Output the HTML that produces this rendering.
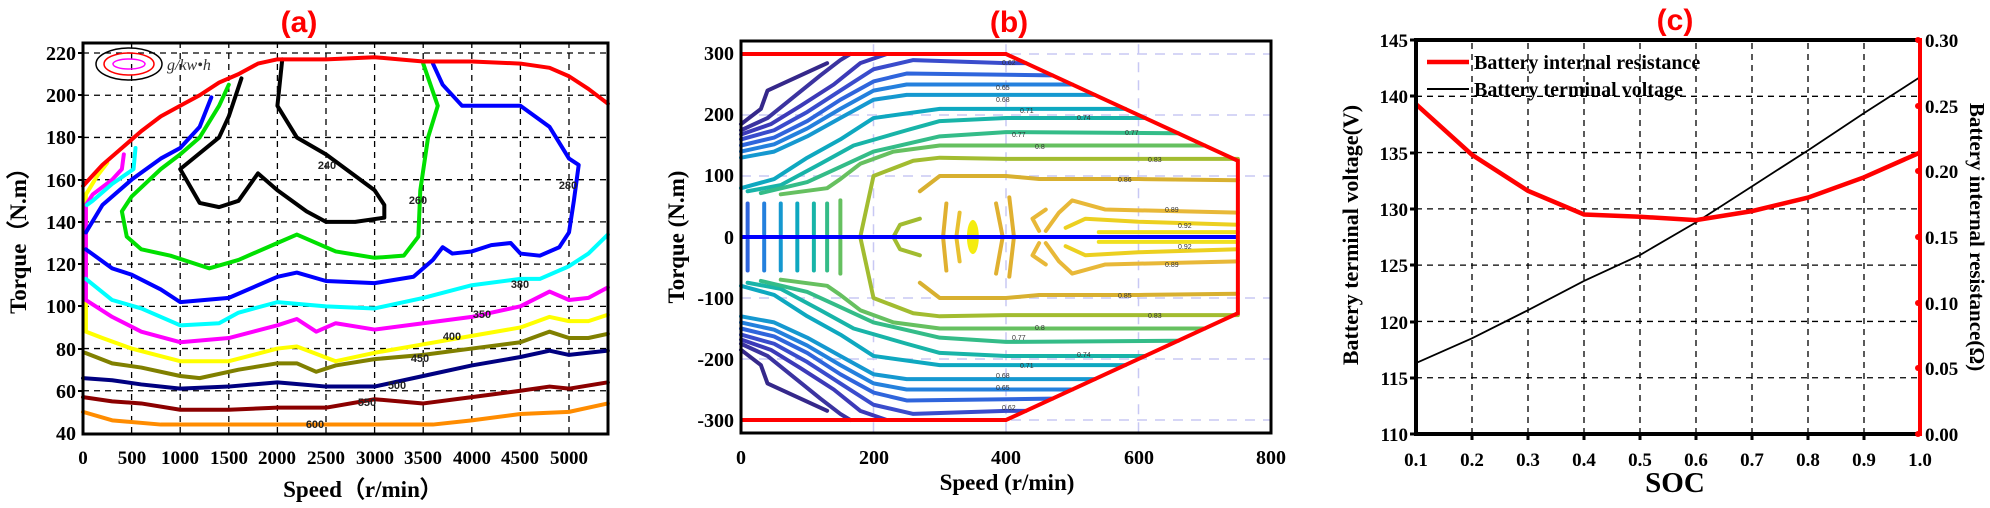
<!DOCTYPE html>
<html><head><meta charset="utf-8"><style>
html,body{margin:0;padding:0;background:#fff;}
svg{display:block;}
.t{font-family:"Liberation Serif",serif;font-weight:bold;fill:#000;}
.ttl{font-family:"Liberation Sans",sans-serif;font-weight:bold;fill:#f00;font-size:30px;}
.cl polyline{fill:none;stroke-width:4;vector-effect:non-scaling-stroke;stroke-linejoin:round;stroke-linecap:round;}
.g line{stroke:#000;stroke-width:1.3;stroke-dasharray:6,5;vector-effect:non-scaling-stroke;}
.gb line{stroke:#c8c8f4;stroke-width:1.5;stroke-dasharray:10,8;vector-effect:non-scaling-stroke;}
.lab{font-family:"Liberation Sans",sans-serif;font-weight:bold;font-size:11px;fill:#222;}
.sl{font-family:"Liberation Sans",sans-serif;font-size:7px;fill:#333;}
</style></head><body>
<svg width="1990" height="508" viewBox="0 0 1990 508" xmlns="http://www.w3.org/2000/svg">
<rect width="1990" height="508" fill="#fff"/>

<!-- ============ PANEL A ============ -->
<text class="ttl" x="299" y="32" text-anchor="middle">(a)</text>
<g transform="translate(83,433) scale(0.0972,-2.111) translate(0,-40)">
 <g class="g">
  <line x1="500" y1="40" x2="500" y2="225"/><line x1="1000" y1="40" x2="1000" y2="225"/><line x1="1500" y1="40" x2="1500" y2="225"/><line x1="2000" y1="40" x2="2000" y2="225"/><line x1="2500" y1="40" x2="2500" y2="225"/><line x1="3000" y1="40" x2="3000" y2="225"/><line x1="3500" y1="40" x2="3500" y2="225"/><line x1="4000" y1="40" x2="4000" y2="225"/><line x1="4500" y1="40" x2="4500" y2="225"/><line x1="5000" y1="40" x2="5000" y2="225"/>
  <line x1="0" y1="60" x2="5400" y2="60"/><line x1="0" y1="80" x2="5400" y2="80"/><line x1="0" y1="100" x2="5400" y2="100"/><line x1="0" y1="120" x2="5400" y2="120"/><line x1="0" y1="140" x2="5400" y2="140"/><line x1="0" y1="160" x2="5400" y2="160"/><line x1="0" y1="180" x2="5400" y2="180"/><line x1="0" y1="200" x2="5400" y2="200"/><line x1="0" y1="220" x2="5400" y2="220"/>
 </g>
 <g class="cl">
  <polyline stroke="#ff8c00" points="0,50 300,46 800,44 1500,44 2500,44 3000,44 3600,44 4000,46 4500,49 5000,50 5400,54"/>
  <polyline stroke="#8b0000" points="0,57 300,55 600,54 1000,51 1500,51 2000,52 2500,52 3000,56 3500,54 4000,57 4500,60 4800,62 5000,61 5400,64"/>
  <polyline stroke="#000080" points="0,66 300,65 600,63 1000,61 1500,62 2000,64 2500,62 3000,62 3500,67 4000,72 4500,76 4800,79 5000,77 5400,79"/>
  <polyline stroke="#808000" points="20,78 300,73 600,71 1000,67 1200,66 1600,70 2000,73 2200,73 2400,69 2600,72 3000,75 3500,77 4000,80 4500,83 4800,88 5000,85 5200,85 5400,87"/>
  <polyline stroke="#ffff00" points="250,168 150,162 30,153 30,88 200,85 500,80 1000,74 1500,74 2000,80 2200,81 2600,74 3000,78 3500,82 4000,86 4500,90 4800,95 5000,93 5200,93 5400,96"/>
  <polyline stroke="#ff00ff" points="420,172 400,165 300,160 100,153 30,148 30,103 300,95 600,88 1000,83 1500,85 2000,91 2200,94 2400,88 2600,92 3000,89 3500,92 4000,95 4500,100 4800,107 5000,103 5200,104 5400,109"/>
  <polyline stroke="#00ffff" points="540,175 520,165 300,158 100,150 40,148"/>
  <polyline stroke="#00ffff" points="30,113 300,103 600,99 1000,91 1400,92 1600,97 2000,102 2500,100 3000,99 3500,104 4000,110 4500,113 4700,113 5000,119 5200,125 5400,134"/>
  <polyline stroke="#0000ff" points="1320,199 1200,185 1000,175 800,170 500,160 200,148 30,135"/>
  <polyline stroke="#0000ff" points="30,127 300,118 500,115 800,108 1000,102 1500,104 2000,114 2200,116 2500,112 3000,111 3400,114 3600,122 3700,128 3800,125 4000,126 4200,129 4400,130 4500,125 4700,124 4900,128 5000,135 5050,150 5100,167 5000,170 4800,185 4500,195 3900,195 3700,205 3600,215"/>
  <polyline stroke="#00e000" points="1500,205 1400,195 1200,180 1000,172 800,165 500,152 400,145 450,133 600,127 900,124 1300,118 1600,122 2000,130 2200,134 2600,126 3000,123 3300,124 3450,133 3470,155 3550,180 3650,195 3500,215"/>
  <polyline stroke="#000" points="2050,217 2000,195 2200,180 2500,172 3000,155 3100,148 3100,142 2800,140 2500,140 2300,145 2000,155 1800,163 1600,150 1400,147 1200,149 1000,165 1400,180 1500,190 1630,208"/>
  <polyline stroke="#ff0000" points="0,157 200,167 400,175 600,183 800,190 1000,195 1200,200 1400,206 1600,210 1800,215 2000,217 2500,217 3000,218 3500,216 4000,216 4500,215 4800,213 5000,209 5200,203 5400,196"/>
 </g>
</g>
<text class="lab" x="327" y="169" text-anchor="middle">240</text>
<text class="lab" x="418" y="204" text-anchor="middle">260</text>
<text class="lab" x="568" y="189" text-anchor="middle">280</text>
<text class="lab" x="520" y="288" text-anchor="middle">380</text>
<text class="lab" x="482" y="318" text-anchor="middle">350</text>
<text class="lab" x="452" y="340" text-anchor="middle">400</text>
<text class="lab" x="420" y="362" text-anchor="middle">450</text>
<text class="lab" x="397" y="389" text-anchor="middle">500</text>
<text class="lab" x="367" y="406" text-anchor="middle">550</text>
<text class="lab" x="315" y="428" text-anchor="middle">600</text>
<!-- legend ellipses -->
<ellipse cx="129" cy="64" rx="33" ry="16" fill="none" stroke="#000" stroke-width="1.5"/>
<ellipse cx="129" cy="64" rx="25" ry="11" fill="none" stroke="#f00" stroke-width="1.5"/>
<ellipse cx="129" cy="64" rx="16" ry="5" fill="none" stroke="#f0f" stroke-width="1.5"/>
<text x="167" y="70" style="font-family:'Liberation Serif',serif;font-style:italic;font-size:16px;fill:#333">g/kw•h</text>
<rect x="83" y="43" width="525" height="391" fill="none" stroke="#000" stroke-width="3"/>
<g class="t" font-size="20" text-anchor="end">
 <text x="76" y="60">220</text><text x="76" y="102">200</text><text x="76" y="144">180</text><text x="76" y="187">160</text><text x="76" y="229">140</text><text x="76" y="271">120</text><text x="76" y="313">100</text><text x="76" y="356">80</text><text x="76" y="398">60</text><text x="76" y="440">40</text>
</g>
<g stroke="#000" stroke-width="2">
 <line x1="78" y1="53" x2="83" y2="53"/><line x1="78" y1="95" x2="83" y2="95"/><line x1="78" y1="137" x2="83" y2="137"/><line x1="78" y1="180" x2="83" y2="180"/><line x1="78" y1="222" x2="83" y2="222"/><line x1="78" y1="264" x2="83" y2="264"/><line x1="78" y1="306" x2="83" y2="306"/><line x1="78" y1="349" x2="83" y2="349"/><line x1="78" y1="391" x2="83" y2="391"/>
</g>
<g class="t" font-size="19" text-anchor="middle">
 <text x="83" y="464">0</text><text x="132" y="464">500</text><text x="180" y="464">1000</text><text x="229" y="464">1500</text><text x="277" y="464">2000</text><text x="326" y="464">2500</text><text x="375" y="464">3000</text><text x="423" y="464">3500</text><text x="472" y="464">4000</text><text x="520" y="464">4500</text><text x="569" y="464">5000</text>
</g>
<text class="t" font-size="23" x="363" y="497" text-anchor="middle">Speed（r/min）</text>
<text class="t" font-size="23" transform="translate(26,235) rotate(-90)" text-anchor="middle">Torque（N.m）</text>

<!-- ============ PANEL B ============ -->
<text class="ttl" x="1009" y="32" text-anchor="middle">(b)</text>
<g transform="translate(741,237) scale(0.6625,-0.61)">
 <g class="gb">
  <line x1="200" y1="-320" x2="200" y2="320"/><line x1="400" y1="-320" x2="400" y2="320"/><line x1="600" y1="-320" x2="600" y2="320"/>
  <line x1="0" y1="100" x2="800" y2="100"/><line x1="0" y1="200" x2="800" y2="200"/><line x1="0" y1="300" x2="800" y2="300"/>
  <line x1="0" y1="-100" x2="800" y2="-100"/><line x1="0" y1="-200" x2="800" y2="-200"/><line x1="0" y1="-300" x2="800" y2="-300"/>
 </g>
 <g class="cl" id="up">
  <polyline stroke="#35288a" points="0,185 30,210 40,240 70,255 100,270 130,285"/>
  <polyline stroke="#3b33a0" points="0,175 40,195 80,230 120,265 150,290 165,300"/>
  <polyline stroke="#3c3ab8" points="0,168 45,185 90,215 140,250 180,285 220,300"/>
  <polyline stroke="#3a4ccc" points="0,160 50,175 100,205 150,240 200,275 260,290 400,285 430,285"/>
  <polyline stroke="#2f65dc" points="0,150 50,163 100,190 150,225 200,255 250,268 470,265"/>
  <polyline stroke="#2480dd" points="0,140 50,152 100,178 150,210 200,240 250,250 500,250"/>
  <polyline stroke="#1598d0" points="0,130 50,140 100,165 150,195 200,225 250,233 534,233"/>
  <polyline stroke="#0ea8c0" points="0,80 50,95 100,130 150,160 200,195 300,210 580,210"/>
  <polyline stroke="#18b4a8" points="10,75 60,85 120,120 170,150 250,175 300,190 400,195 610,195"/>
  <polyline stroke="#34bc88" points="30,72 100,90 140,110 200,140 300,165 400,172 660,170"/>
  <polyline stroke="#66c060" points="60,70 130,80 150,95 180,120 230,140 300,150 400,150 700,150"/>
  <polyline stroke="#a2bc30" points="180,0 200,100 260,125 300,130 400,128 750,128"/>
  <polyline stroke="#d8b030" points="270,75 300,100 350,100 400,100 450,95 600,95 750,93"/>
  <polyline stroke="#e8b838" points="460,10 480,40 500,60 550,45 750,40"/>
  <polyline stroke="#ecd020" points="490,15 520,30 600,25 750,20"/>
  <polyline stroke="#f0e020" points="540,8 750,8"/>
 </g>
 <use href="#up" transform="scale(1,-1)"/>
 <g class="cl">
  <polyline stroke="#2f65dc" points="10,55 10,5"/><polyline stroke="#2f65dc" points="10,-55 10,-5"/>
  <polyline stroke="#2480dd" points="35,55 35,5"/><polyline stroke="#2480dd" points="35,-55 35,-5"/>
  <polyline stroke="#1598d0" points="60,55 60,5"/><polyline stroke="#1598d0" points="60,-55 60,-5"/>
  <polyline stroke="#0ea8c0" points="85,55 85,5"/><polyline stroke="#0ea8c0" points="85,-55 85,-5"/>
  <polyline stroke="#18b4a8" points="110,55 110,5"/><polyline stroke="#18b4a8" points="110,-55 110,-5"/>
  <polyline stroke="#34bc88" points="130,55 130,5"/><polyline stroke="#34bc88" points="130,-55 130,-5"/>
  <polyline stroke="#66c060" points="150,60 150,5"/><polyline stroke="#66c060" points="150,-60 150,-5"/>
  <polyline stroke="#a2bc30" points="270,30 240,20 230,0 240,-20 270,-30"/>
  <polyline stroke="#e0b030" points="310,55 305,0 310,-55"/>
  <polyline stroke="#e8c030" points="330,40 325,0 330,-40"/>
  <polyline stroke="#e0b030" points="385,55 395,0 385,-60"/>
  <polyline stroke="#e0b030" points="405,65 412,0 405,-65"/>
  <polyline stroke="#e8b838" points="450,10 440,30 460,45"/>
  <polyline stroke="#e8b838" points="450,-10 440,-30 460,-45"/>
 </g>
 <ellipse cx="350" cy="0" rx="9" ry="28" fill="#f4ec10"/>
 <polyline points="0,0 750,0" fill="none" stroke="#0000ff" stroke-width="4" vector-effect="non-scaling-stroke"/>
 <polyline points="0,300 400,300 750,125 750,-125 400,-300 0,-300" fill="none" stroke="#ff0000" stroke-width="4" vector-effect="non-scaling-stroke"/>
</g>
<g class="sl">
 <text x="1002" y="65">0.62</text><text x="996" y="90">0.65</text><text x="996" y="102">0.68</text><text x="1020" y="113">0.71</text>
 <text x="1077" y="120">0.74</text><text x="1012" y="137">0.77</text><text x="1125" y="135">0.77</text><text x="1035" y="149">0.8</text>
 <text x="1148" y="162">0.83</text><text x="1118" y="182">0.86</text><text x="1165" y="212">0.89</text><text x="1178" y="228">0.92</text>
 <text x="1165" y="267">0.89</text><text x="1178" y="249">0.92</text><text x="1118" y="298">0.85</text><text x="1148" y="318">0.83</text>
 <text x="1035" y="330">0.8</text><text x="1012" y="340">0.77</text><text x="1077" y="357">0.74</text><text x="1020" y="368">0.71</text>
 <text x="996" y="378">0.68</text><text x="996" y="390">0.65</text><text x="1002" y="410">0.62</text>
</g>
<rect x="741" y="41" width="530" height="392" fill="none" stroke="#000" stroke-width="3"/>
<g class="t" font-size="20" text-anchor="end">
 <text x="734" y="60">300</text><text x="734" y="121">200</text><text x="734" y="182">100</text><text x="734" y="244">0</text><text x="734" y="305">-100</text><text x="734" y="366">-200</text><text x="734" y="427">-300</text>
</g>
<g class="t" font-size="20" text-anchor="middle">
 <text x="741" y="464">0</text><text x="874" y="464">200</text><text x="1006" y="464">400</text><text x="1139" y="464">600</text><text x="1271" y="464">800</text>
</g>
<text class="t" font-size="23" x="1007" y="490" text-anchor="middle">Speed (r/min)</text>
<text class="t" font-size="23" transform="translate(684,237) rotate(-90)" text-anchor="middle">Torque (N.m)</text>

<!-- ============ PANEL C ============ -->
<text class="ttl" x="1675" y="30" text-anchor="middle">(c)</text>
<g transform="translate(1360,434) scale(560,-11.257) translate(0,-110)">
 <g class="g">
  <line x1="0.2" y1="110" x2="0.2" y2="145"/><line x1="0.3" y1="110" x2="0.3" y2="145"/><line x1="0.4" y1="110" x2="0.4" y2="145"/><line x1="0.5" y1="110" x2="0.5" y2="145"/><line x1="0.6" y1="110" x2="0.6" y2="145"/><line x1="0.7" y1="110" x2="0.7" y2="145"/><line x1="0.8" y1="110" x2="0.8" y2="145"/><line x1="0.9" y1="110" x2="0.9" y2="145"/>
  <line x1="0.1" y1="115" x2="1" y2="115"/><line x1="0.1" y1="120" x2="1" y2="120"/><line x1="0.1" y1="125" x2="1" y2="125"/><line x1="0.1" y1="130" x2="1" y2="130"/><line x1="0.1" y1="135" x2="1" y2="135"/><line x1="0.1" y1="140" x2="1" y2="140"/>
 </g>
 <polyline points="0.1,116.3 0.2,118.5 0.3,121 0.4,123.6 0.5,125.9 0.6,128.8 0.7,132 0.8,135.2 0.9,138.5 1.0,141.7" fill="none" stroke="#000" stroke-width="1.8" vector-effect="non-scaling-stroke"/>
 <polyline points="0.1,139.3 0.2,134.8 0.3,131.6 0.4,129.5 0.5,129.3 0.6,129 0.7,129.8 0.8,131 0.9,132.8 1.0,135" fill="none" stroke="#f00" stroke-width="4.5" vector-effect="non-scaling-stroke"/>
</g>
<line x1="1416" y1="40" x2="1920" y2="40" stroke="#000" stroke-width="4"/>
<line x1="1416" y1="434" x2="1920" y2="434" stroke="#000" stroke-width="4"/>
<line x1="1416" y1="38" x2="1416" y2="436" stroke="#000" stroke-width="4"/>
<line x1="1920" y1="38" x2="1920" y2="436" stroke="#f00" stroke-width="4"/>
<g fill="#f00">
 <circle cx="1918" cy="40" r="3"/><circle cx="1918" cy="106" r="3"/><circle cx="1918" cy="171" r="3"/><circle cx="1918" cy="237" r="3"/><circle cx="1918" cy="303" r="3"/><circle cx="1918" cy="368" r="3"/><circle cx="1918" cy="434" r="3"/>
</g>
<g stroke="#000" stroke-width="3">
 <line x1="1410" y1="40" x2="1416" y2="40"/><line x1="1410" y1="96" x2="1416" y2="96"/><line x1="1410" y1="153" x2="1416" y2="153"/><line x1="1410" y1="209" x2="1416" y2="209"/><line x1="1410" y1="265" x2="1416" y2="265"/><line x1="1410" y1="322" x2="1416" y2="322"/><line x1="1410" y1="378" x2="1416" y2="378"/><line x1="1410" y1="434" x2="1416" y2="434"/>
 <line x1="1472" y1="434" x2="1472" y2="440"/><line x1="1528" y1="434" x2="1528" y2="440"/><line x1="1584" y1="434" x2="1584" y2="440"/><line x1="1640" y1="434" x2="1640" y2="440"/><line x1="1696" y1="434" x2="1696" y2="440"/><line x1="1752" y1="434" x2="1752" y2="440"/><line x1="1808" y1="434" x2="1808" y2="440"/><line x1="1864" y1="434" x2="1864" y2="440"/>
</g>
<g class="t" font-size="19" text-anchor="end">
 <text x="1408" y="47">145</text><text x="1408" y="103">140</text><text x="1408" y="160">135</text><text x="1408" y="216">130</text><text x="1408" y="272">125</text><text x="1408" y="329">120</text><text x="1408" y="385">115</text><text x="1408" y="441">110</text>
</g>
<g class="t" font-size="19" text-anchor="start">
 <text x="1925" y="47">0.30</text><text x="1925" y="113">0.25</text><text x="1925" y="178">0.20</text><text x="1925" y="244">0.15</text><text x="1925" y="310">0.10</text><text x="1925" y="375">0.05</text><text x="1925" y="441">0.00</text>
</g>
<g class="t" font-size="19" text-anchor="middle">
 <text x="1416" y="466">0.1</text><text x="1472" y="466">0.2</text><text x="1528" y="466">0.3</text><text x="1584" y="466">0.4</text><text x="1640" y="466">0.5</text><text x="1696" y="466">0.6</text><text x="1752" y="466">0.7</text><text x="1808" y="466">0.8</text><text x="1864" y="466">0.9</text><text x="1920" y="466">1.0</text>
</g>
<text class="t" font-size="29" x="1675" y="492" text-anchor="middle">SOC</text>
<text class="t" font-size="22" transform="translate(1358,235) rotate(-90)" text-anchor="middle">Battery terminal voltage(V)</text>
<text class="t" font-size="21" transform="translate(1970,237) rotate(90)" text-anchor="middle">Battery internal resistance(Ω)</text>
<line x1="1427" y1="62" x2="1469" y2="62" stroke="#f00" stroke-width="4.5"/>
<line x1="1427" y1="89" x2="1469" y2="89" stroke="#000" stroke-width="2"/>
<text class="t" font-size="20" x="1474" y="69">Battery internal resistance</text>
<text class="t" font-size="20" x="1474" y="96">Battery terminal voltage</text>
</svg>
</body></html>
